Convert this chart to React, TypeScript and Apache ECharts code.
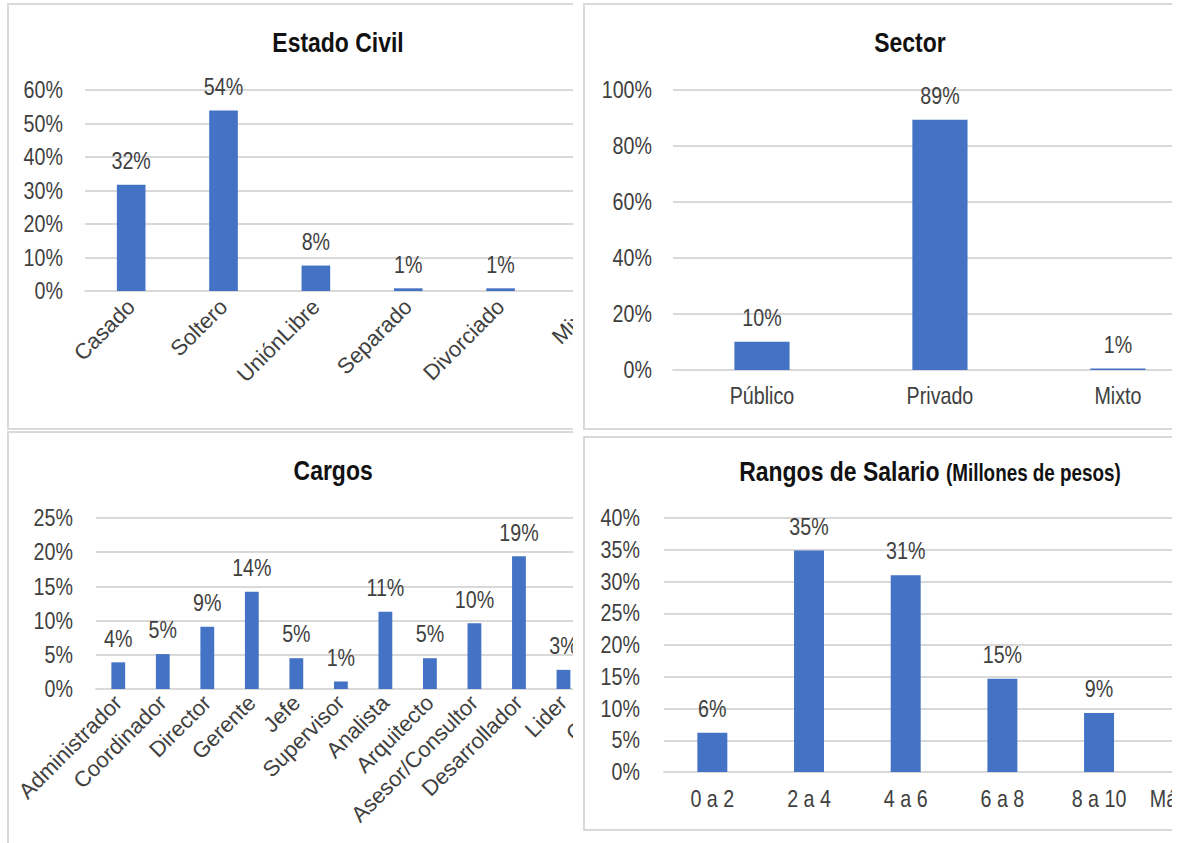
import React, { useEffect, useRef } from "react";
import * as echarts from "echarts";

// ---------- DATA ----------
const estadoCategories = ["Casado", "Soltero", "UniónLibre", "Separado", "Divorciado", "Mixto"];
const estadoValues = [31.7, 53.9, 7.6, 0.8, 0.8, 5.2];

const sectorCategories = ["Público", "Privado", "Mixto"];
const sectorValues = [10.1, 89.4, 0.5];

const cargoCategories = [
  "Administrador", "Coordinador", "Director", "Gerente", "Jefe", "Supervisor",
  "Analista", "Arquitecto", "Asesor/Consultor", "Desarrollador", "Lider", "Otros",
];
const cargoValues = [3.9, 5.1, 9.1, 14.2, 4.5, 1.1, 11.3, 4.5, 9.6, 19.4, 2.8, 14.5];

const salarioCategories = ["0 a 2", "2 a 4", "4 a 6", "6 a 8", "8 a 10", "Más de 10"];
const salarioValues = [6.2, 34.9, 31.0, 14.7, 9.3, 3.9];

// ---------- STYLE ----------
const S = 0.82; // horizontal condensing of the chart body (narrow-font look)
const FONT = "'Liberation Sans', Arial, sans-serif";
const BAR = "#4472C4";
const GRID = "#d9d9d9";
const TXT = "#404040";

type Cfg = {
  title: string;
  titleTop: number;
  categories: string[];
  values: number[];
  max: number;
  interval: number;
  grid: { left: number; right: number; top: number; bottom: number };
  rotate: number;
  rotFont: number;
  xMargin: number;
  yMargin: number;
};

function buildOption(c: Cfg) {
  return {
    animation: false,
    title: {
      text: c.title,
      left: "center",
      top: c.titleTop,
      textStyle: {
        fontFamily: FONT,
        fontWeight: "bold",
        fontSize: 28,
        color: "#111",
        rich: {
          a: { fontFamily: FONT, fontWeight: "bold", fontSize: 28, color: "#111" },
          b: { fontFamily: FONT, fontWeight: "bold", fontSize: 23, color: "#111", padding: [4, 0, 0, 0] },
        },
      },
    },
    grid: {
      left: c.grid.left / S,
      right: c.grid.right / S,
      top: c.grid.top,
      bottom: c.grid.bottom,
      containLabel: false,
    },
    xAxis: {
      type: "category",
      data: c.categories,
      axisLine: { lineStyle: { color: GRID, width: 2 } },
      axisTick: { show: false },
      axisLabel: {
        show: c.rotate === 0,
        interval: 0,
        margin: c.xMargin,
        fontSize: 24,
        fontFamily: FONT,
        color: TXT,
      },
    },
    yAxis: {
      type: "value",
      min: 0,
      max: c.max,
      interval: c.interval,
      axisLine: { show: false },
      axisTick: { show: false },
      splitLine: { lineStyle: { color: GRID, width: 2 } },
      axisLabel: {
        formatter: "{value}%",
        margin: c.yMargin / S,
        fontSize: 24,
        fontFamily: FONT,
        color: TXT,
      },
    },
    series: [
      {
        type: "bar",
        data: c.values,
        barWidth: "31%",
        itemStyle: { color: BAR },
        label: {
          show: true,
          position: "top",
          distance: 12,
          formatter: (p: any) => Math.round(p.value) + "%",
          fontSize: 24,
          fontFamily: FONT,
          color: TXT,
        },
      },
    ],
  };
}

// Un-condensed layer that only carries the rotated category labels,
// so they are rotated without shear; same grid in page pixels.
function buildLabelOption(c: Cfg) {
  return {
    animation: false,
    grid: { ...c.grid, containLabel: false },
    xAxis: {
      type: "category",
      data: c.categories,
      axisLine: { show: false },
      axisTick: { show: false },
      splitLine: { show: false },
      axisLabel: {
        interval: 0,
        rotate: c.rotate,
        margin: c.xMargin,
        fontSize: c.rotFont,
        fontFamily: FONT,
        color: TXT,
      },
    },
    yAxis: { type: "value", min: 0, max: c.max, show: false },
    series: [],
  };
}

function Panel(props: {
  clip: { left: number; top: number; width: number; height: number };
  chart: { left: number; top: number; width: number; height: number };
  border: { left: number; top: number; width: number; height: number; bottom: boolean };
  cfg: Cfg;
}) {
  const ref = useRef<HTMLDivElement>(null);
  const ref2 = useRef<HTMLDivElement>(null);
  useEffect(() => {
    if (!ref.current) return;
    const inst = echarts.init(ref.current, undefined, { renderer: "svg" });
    inst.setOption(buildOption(props.cfg) as any);
    let inst2: echarts.ECharts | null = null;
    if (props.cfg.rotate !== 0 && ref2.current) {
      inst2 = echarts.init(ref2.current, undefined, { renderer: "svg" });
      inst2.setOption(buildLabelOption(props.cfg) as any);
    }
    return () => {
      inst.dispose();
      if (inst2) inst2.dispose();
    };
  }, []);
  const { clip, chart, border } = props;
  return (
    <>
      <div
        style={{
          position: "absolute",
          left: clip.left,
          top: clip.top,
          width: clip.width,
          height: clip.height,
          overflow: "hidden",
        }}
      >
        <div
          ref={ref}
          style={{
            position: "absolute",
            left: chart.left - clip.left,
            top: chart.top - clip.top,
            width: chart.width / S,
            height: chart.height,
            transform: `scaleX(${S})`,
            transformOrigin: "0 0",
          }}
        />
        {props.cfg.rotate !== 0 && (
          <div
            ref={ref2}
            style={{
              position: "absolute",
              left: chart.left - clip.left,
              top: chart.top - clip.top,
              width: chart.width,
              height: chart.height,
              pointerEvents: "none",
            }}
          />
        )}
      </div>
      <div
        style={{
          position: "absolute",
          left: border.left,
          top: border.top,
          width: border.width,
          height: border.height,
          boxSizing: "border-box",
          borderLeft: `2px solid ${GRID}`,
          borderTop: `2px solid ${GRID}`,
          borderBottom: border.bottom ? `2px solid ${GRID}` : "none",
          pointerEvents: "none",
        }}
      />
    </>
  );
}

export default function App() {
  return (
    <div
      style={{
        position: "fixed",
        left: 0,
        top: 0,
        width: 1181,
        height: 843,
        background: "#fff",
        overflow: "hidden",
      }}
    >
      <Panel
        clip={{ left: 8, top: 4, width: 565, height: 425 }}
        chart={{ left: 8, top: 4, width: 660, height: 424 }}
        border={{ left: 7, top: 3, width: 566, height: 427, bottom: true }}
        cfg={{
          title: "Estado Civil",
          titleTop: 19,
          categories: estadoCategories,
          values: estadoValues,
          max: 60,
          interval: 10,
          grid: { left: 77, right: 29, top: 86, bottom: 137 },
          rotate: 45,
          rotFont: 22,
          xMargin: 12,
          yMargin: 22,
        }}
      />
      <Panel
        clip={{ left: 584, top: 4, width: 588, height: 425 }}
        chart={{ left: 584, top: 4, width: 652, height: 424 }}
        border={{ left: 583, top: 3, width: 589, height: 427, bottom: true }}
        cfg={{
          title: "Sector",
          titleTop: 19,
          categories: sectorCategories,
          values: sectorValues,
          max: 100,
          interval: 20,
          grid: { left: 89, right: 29, top: 86, bottom: 58 },
          rotate: 0,
          rotFont: 22,
          xMargin: 14,
          yMargin: 21,
        }}
      />
      <Panel
        clip={{ left: 8, top: 432, width: 565, height: 411 }}
        chart={{ left: 8, top: 432, width: 650, height: 420 }}
        border={{ left: 7, top: 431, width: 566, height: 420, bottom: false }}
        cfg={{
          title: "Cargos",
          titleTop: 19,
          categories: cargoCategories,
          values: cargoValues,
          max: 25,
          interval: 5,
          grid: { left: 88, right: 28, top: 86, bottom: 163 },
          rotate: 45,
          rotFont: 22,
          xMargin: 10,
          yMargin: 23,
        }}
      />
      <Panel
        clip={{ left: 584, top: 437, width: 588, height: 393 }}
        chart={{ left: 584, top: 437, width: 692, height: 393 }}
        border={{ left: 583, top: 436, width: 589, height: 395, bottom: true }}
        cfg={{
          title: "{a|Rangos de Salario} {b|(Millones de pesos)}",
          titleTop: 15,
          categories: salarioCategories,
          values: salarioValues,
          max: 40,
          interval: 5,
          grid: { left: 80, right: 32, top: 81, bottom: 58 },
          rotate: 0,
          rotFont: 22,
          xMargin: 15,
          yMargin: 24,
        }}
      />
    </div>
  );
}
